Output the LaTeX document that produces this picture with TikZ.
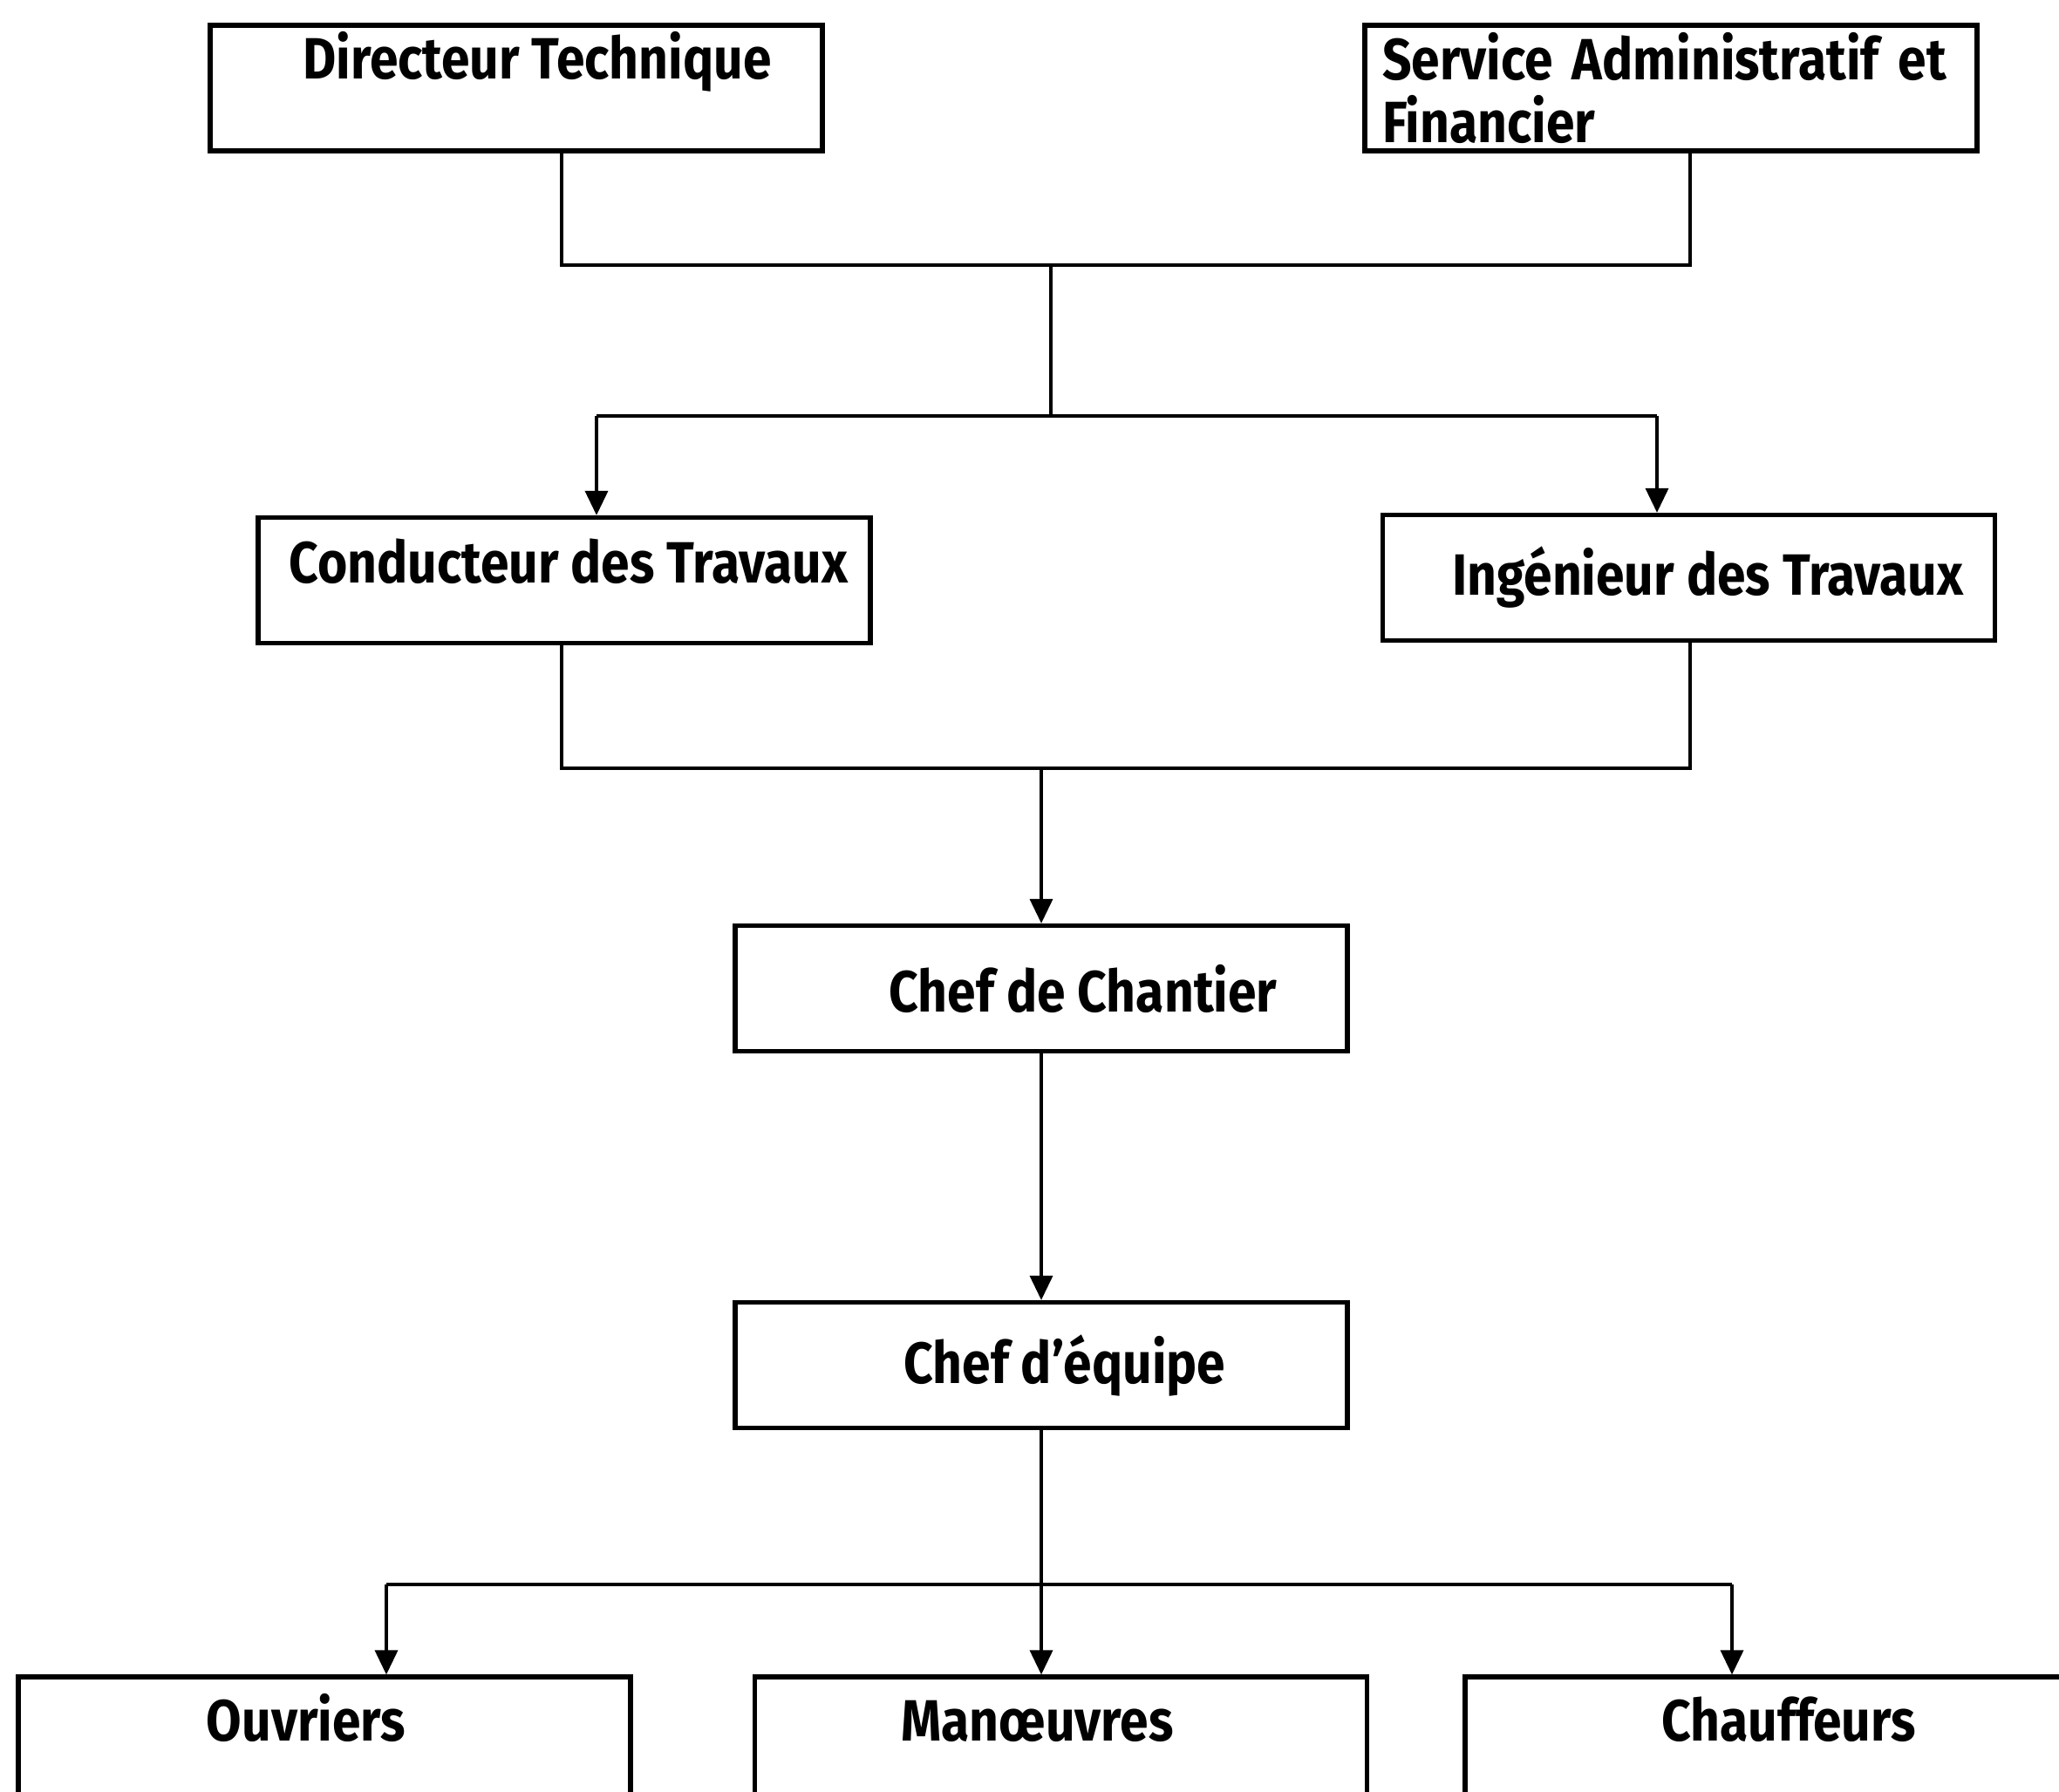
\documentclass[tikz,border=0pt]{standalone}
\usepackage{fontspec}
\setmainfont{Fira Sans}[FakeStretch=0.88]
\usetikzlibrary{arrows.meta}

\tikzset{
  box/.style={rectangle, draw, line width=1.5pt, minimum width=7.02cm,
    minimum height=1.44cm, inner sep=0pt, font=\fontsize{19}{20.5}\selectfont\bfseries},
  link/.style={line width=1pt},
  >={Triangle[length=0.28cm,width=0.26cm]}
}

\begin{document}
\begin{tikzpicture}[y=-1cm]
\useasboundingbox (0,0) rectangle (23.61,20.54);
\clip (0,0) rectangle (23.61,20.54);

% top level
\node (dt)  [box, text height=0.61cm, text depth=0.83cm] at (5.92,1.01) {\hspace*{0.48cm}Directeur Technique};
\node (saf) [box, align=left, text width=6.62cm] at (19.16,1.01) {Service Administratif et\\Financier};

% second level
\node (ct) [box, text height=0.75cm, text depth=0.69cm] at (6.47,6.655) {\hspace*{0.1cm}Conducteur des Travaux};
\node (it) [box] at (19.365,6.625) {\hspace*{0.44cm}Ingénieur des Travaux};

\node (cc) [box] at (11.94,11.335) {\hspace*{0.96cm}Chef de Chantier};
\node (ce) [box] at (11.94,15.655) {\hspace*{0.54cm}Chef d’équipe};

% bottom row, cut by the page edge
\node (ouv) [box, text height=0.73cm, text depth=0.71cm] at (3.72,19.95) {Ouvriers\hspace*{0.42cm}};
\node (man) [box, text height=0.73cm, text depth=0.71cm] at (12.165,19.95) {Manœuvres\hspace*{0.54cm}};
\node (chf) [box, text height=0.73cm, text depth=0.71cm] at (20.31,19.95) {\hspace*{0.4cm}Chauffeurs};

\coordinate (top-l) at (6.44,3.04);
\coordinate (top-r) at (19.38,3.04);
\coordinate (fork)  at (12.05,4.77);
\coordinate (bar-l) at (6.84,4.77);
\coordinate (bar-r) at (19.00,4.77);
\coordinate (mid-l) at (6.44,8.81);
\coordinate (mid-r) at (19.38,8.81);
\coordinate (low-l) at (4.43,18.17);
\coordinate (low-r) at (19.86,18.17);

\draw[link] (dt.south -| top-l) -- (top-l) -- (top-r) -- (saf.south -| top-r);
\draw[link] (fork |- top-l) -- (fork);
\draw[link] (bar-l) -- (bar-r);
\draw[link,->] (bar-l) -- (bar-l |- ct.north);
\draw[link,->] (bar-r) -- (bar-r |- it.north);

\draw[link] (ct.south -| mid-l) -- (mid-l) -- (mid-r) -- (it.south -| mid-r);
\draw[link,->] (cc.north |- mid-l) -- (cc.north);
\draw[link,->] (cc) -- (ce);

\draw[link,->] (ce.south) -- (ce.south |- man.north);
\draw[link] (low-l) -- (low-r);
\draw[link,->] (low-l) -- (low-l |- ouv.north);
\draw[link,->] (low-r) -- (low-r |- chf.north);
\end{tikzpicture}
\end{document}
